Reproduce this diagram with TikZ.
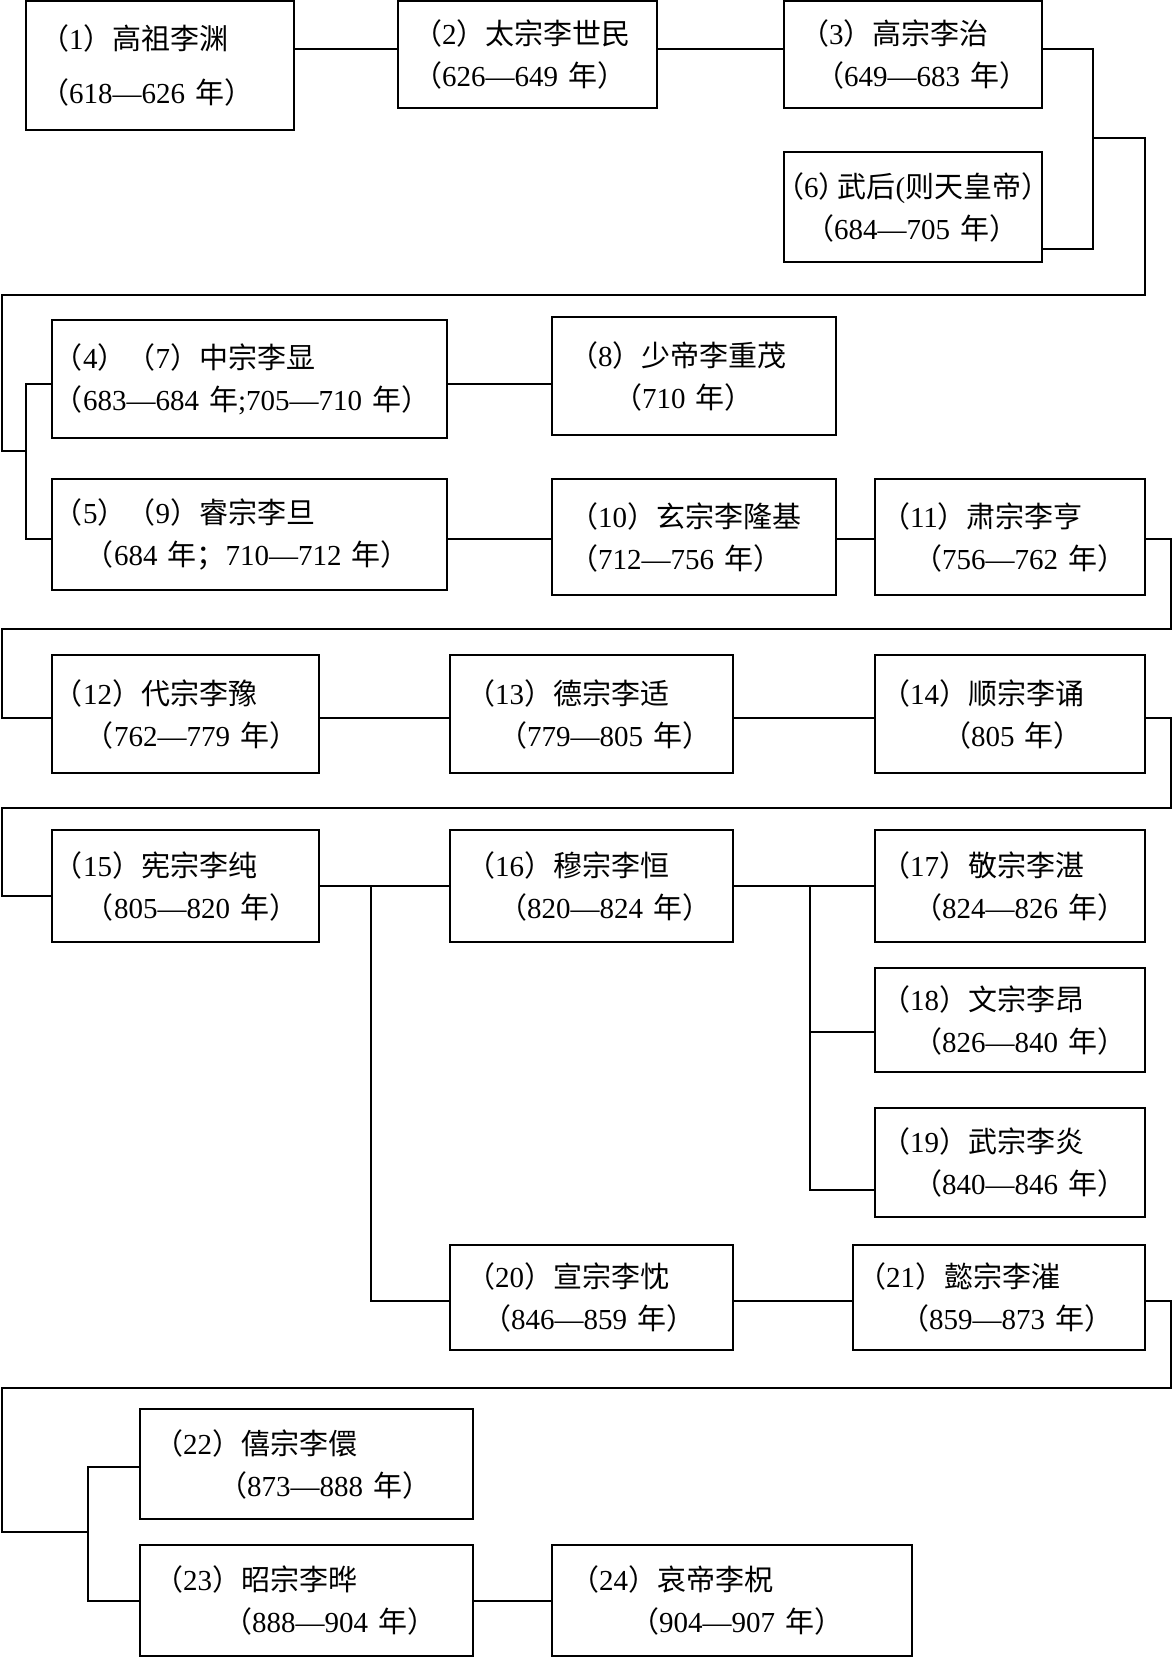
\documentclass[tikz,border=0pt]{standalone}
\usepackage{fontspec}
\setmainfont{Liberation Serif}
\newfontfamily\cjk{Noto Sans CJK SC}
\newcommand\zh[1]{{\cjk #1}}
\newcommand\ysp{\hspace{0.35em}}
\newcommand\nm[2]{\zh{（}#1\zh{）#2}}
\newcommand\yr[1]{\zh{（}#1\ysp\zh{年）}}
\newlength\px \setlength\px{0.5pt}
\tikzset{
  box/.style={draw, line width=1pt, inner xsep=0pt, inner ysep=0pt, align=left,
    font=\fontsize{14.5}{21}\selectfont},
  conn/.style={line width=1pt}
}
\newcommand\bx[9]{%
  \pgfmathsetmacro\bw{(#4-#2)*0.5}\pgfmathsetmacro\bh{(#5-#3)*0.5}%
  \node[box, text width=\bw pt, minimum height=\bh pt] (#1) at ({(#2+#4)/2},{(#3+#5)/2})
    {\hspace*{#6\px}\mbox{#7}\\\hspace*{#8\px}\mbox{#9}};}
\begin{document}
\begin{tikzpicture}[x=0.5pt,y=-0.5pt]
\useasboundingbox (0,0) rectangle (1173,1658);
% boxes
\node[box, text width=134pt, minimum height=64.5pt] (b1) at (160,65.5)
  {\hspace*{14\px}\mbox{\nm{1}{高祖李渊}}\\[6pt]\hspace*{14\px}\mbox{\yr{618—626}}};
\bx{b2}{398}{1}{657}{108}{15}{\nm{2}{太宗李世民}}{15}{\yr{626—649}}
\bx{b3}{784}{1}{1042}{108}{16}{\nm{3}{高宗李治}}{31}{\yr{649—683}}
\bx{b6}{784}{152}{1042}{262}{-9}{\zh{（}6\zh{）}\kern-5pt\zh{武后}(\zh{则天皇帝）}}{21}{\yr{684—705}}
\bx{b4}{52}{320}{447}{438}{2}{\zh{（}4\zh{）（}7\zh{）中宗李显}}{2}{\zh{（}683—684\ysp\zh{年};705—710\ysp\zh{年）}}
\bx{b8}{552}{317}{836}{435}{17}{\nm{8}{少帝李重茂}}{61}{\yr{710}}
\bx{b5}{52}{479}{447}{590}{2}{\zh{（}5\zh{）（}9\zh{）睿宗李旦}}{33}{\zh{（}684\ysp\zh{年；}710—712\ysp\zh{年）}}
\bx{b10}{552}{479}{836}{595}{17}{\nm{10}{玄宗李隆基}}{17}{\yr{712—756}}
\bx{b11}{875}{479}{1145}{595}{6}{\nm{11}{肃宗李亨}}{38}{\yr{756—762}}
\bx{b12}{52}{655}{319}{773}{2}{\nm{12}{代宗李豫}}{33}{\yr{762—779}}
\bx{b13}{450}{655}{733}{773}{16}{\nm{13}{德宗李适}}{48}{\yr{779—805}}
\bx{b14}{875}{655}{1145}{773}{6}{\nm{14}{顺宗李诵}}{67}{\yr{805}}
\bx{b15}{52}{830}{319}{942}{2}{\nm{15}{宪宗李纯}}{33}{\yr{805—820}}
\bx{b16}{450}{830}{733}{942}{16}{\nm{16}{穆宗李恒}}{48}{\yr{820—824}}
\bx{b17}{875}{830}{1145}{942}{6}{\nm{17}{敬宗李湛}}{38}{\yr{824—826}}
\bx{b18}{875}{968}{1145}{1072}{6}{\nm{18}{文宗李昂}}{38}{\yr{826—840}}
\bx{b19}{875}{1108}{1145}{1217}{6}{\nm{19}{武宗李炎}}{38}{\yr{840—846}}
\bx{b20}{450}{1245}{733}{1350}{16}{\nm{20}{宣宗李忱}}{32}{\yr{846—859}}
\bx{b21}{853}{1245}{1145}{1350}{4}{\nm{21}{懿宗李漼}}{47}{\yr{859—873}}
\bx{b22}{140}{1409}{473}{1519}{14}{\nm{22}{僖宗李儇}}{78}{\yr{873—888}}
\bx{b23}{140}{1545}{473}{1656}{14}{\nm{23}{昭宗李晔}}{83}{\yr{888—904}}
\bx{b24}{552}{1545}{912}{1656}{18}{\nm{24}{哀帝李柷}}{78}{\yr{904—907}}
% junction coordinates
\coordinate (j1) at (0,49);
\coordinate (k1) at (1093,249);
\coordinate (k2) at (1093,138);
\coordinate (k3) at (1145,295);
\coordinate (k4) at (2,451);
\coordinate (k5) at (26,384);
\coordinate (k6) at (26,539);
\coordinate (m1) at (1171,629);
\coordinate (m2) at (2,718);
\coordinate (n1) at (1171,808);
\coordinate (n2) at (2,896);
\coordinate (p1) at (371,886);
\coordinate (p2) at (371,1301);
\coordinate (q1) at (810,886);
\coordinate (q2) at (810,1032);
\coordinate (q3) at (810,1190);
\coordinate (s1) at (1171,1388);
\coordinate (s2) at (2,1532);
\coordinate (s3) at (88,1467);
\coordinate (s4) at (88,1601);
% connectors
\draw[conn] (b1.east|-j1) -- (b2.west|-j1);
\draw[conn] (b2.east|-j1) -- (b3.west|-j1);
\draw[conn] (b3.east|-j1) -| (k1) -- (b6.east|-k1);
\draw[conn] (k2) -| (k3) -| (k4) -- (k5|-k4);
\draw[conn] (b4.west|-k5) -- (k5) -- (k6) -- (b5.west|-k6);
\draw[conn] (b4.east|-k5) -- (b8.west|-k5);
\draw[conn] (b5.east|-k6) -- (b10.west|-k6);
\draw[conn] (b10.east|-k6) -- (b11.west|-k6);
\draw[conn] (b11.east|-k6) -| (m1) -| (m2) -- (b12.west|-m2);
\draw[conn] (b12.east|-m2) -- (b13.west|-m2);
\draw[conn] (b13.east|-m2) -- (b14.west|-m2);
\draw[conn] (b14.east|-m2) -| (n1) -| (n2) -- (b15.west|-n2);
\draw[conn] (b15.east|-p1) -- (b16.west|-p1);
\draw[conn] (p1) -- (p2) -- (b20.west|-p2);
\draw[conn] (b16.east|-q1) -- (b17.west|-q1);
\draw[conn] (q1) -- (q3) -- (b19.west|-q3);
\draw[conn] (q2) -- (b18.west|-q2);
\draw[conn] (b20.east|-p2) -- (b21.west|-p2);
\draw[conn] (b21.east|-p2) -| (s1) -| (s2) -- (s3|-s2);
\draw[conn] (b22.west|-s3) -- (s3) -- (s4) -- (b23.west|-s4);
\draw[conn] (b23.east|-s4) -- (b24.west|-s4);
\end{tikzpicture}
\end{document}
